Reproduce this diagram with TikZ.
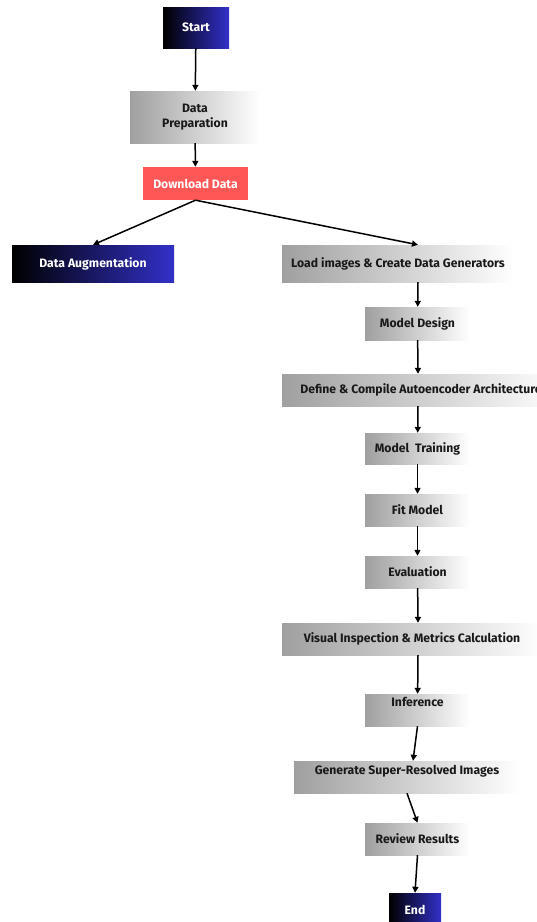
\documentclass[tikz,border=0pt]{standalone}
\usepackage{fontspec}
\setmainfont{Fira Sans}
\usetikzlibrary{arrows.meta}
\definecolor{navy}{RGB}{50,48,200}
\definecolor{salmon}{RGB}{255,86,86}
\definecolor{ink}{RGB}{25,25,25}

\begin{document}
\begin{tikzpicture}[x=1pt, y=-1pt,
 font=\bfseries\fontsize{12.2}{15}\selectfont,
 box/.style={inner sep=0pt, align=center},
 darkbox/.style={box, left color=black, right color=navy, text=white},
 greybox/.style={box, left color=gray!75, right color=white, text=ink},
 redbox/.style={box, fill=salmon, text=white},
 flow/.style={line width=1.5pt, -{Triangle[length=6pt, width=6pt]}}]
 \useasboundingbox (0,0) rectangle (537,922);
 \node[darkbox, minimum width=66pt, minimum height=41pt] (start) at (196,27.5) {Start};
 \node[greybox, minimum width=130pt, minimum height=52pt] (prep) at (195,117) {Data\\Preparation};
 \node[redbox, minimum width=105pt, minimum height=33pt] (dl) at (195.5,183.5) {Download Data};
 \node[darkbox, minimum width=162pt, minimum height=37pt] (aug) at (93,263.5) {Data Augmentation};
 \node[greybox, minimum width=232pt, minimum height=37pt] (load) at (398,263.5) {Load images \& Create Data Generators};
 \node[greybox, minimum width=105pt, minimum height=33pt] (design) at (417.5,323.5) {Model Design};
 \node[greybox, minimum width=278pt, minimum height=32pt] (define) at (421,390) {Define \& Compile Autoencoder Architecture};
 \node[greybox, minimum width=105pt, minimum height=31pt] (train) at (417.5,448.5) {Model\ \ Training};
 \node[greybox, minimum width=105pt, minimum height=32pt] (fit) at (417.5,510) {Fit Model};
 \node[greybox, minimum width=105pt, minimum height=32pt] (eval) at (417.5,572) {Evaluation};
 \node[greybox, minimum width=260pt, minimum height=32pt] (visual) at (412,639) {Visual Inspection \& Metrics Calculation};
 % texte en haut de la boite
 \node[greybox, minimum width=105pt, text height=12pt, text depth=20pt] (infer) at (417.5,710) {Inference};
 \node[greybox, minimum width=226pt, text height=13pt, text depth=19pt] (gen) at (407,777) {Generate Super-Resolved Images};
 \node[greybox, minimum width=105pt, minimum height=32pt] (review) at (417.5,839) {Review Results};
 \node[darkbox, minimum width=52pt, minimum height=33pt] (end) at (415,909.5) {End};

 \draw[flow] (start) -- (prep);
 \draw[flow] (prep) -- (dl);
 \draw[flow] (dl.south) -- (aug.north);
 \draw[flow] (dl.south) -- ([xshift=20pt]load.north);
 \draw[flow] ([xshift=20pt]load.south) -- (design);
 \draw[flow] (design) -- ([xshift=-3pt]define.north);
 \draw[flow] ([xshift=-3pt]define.south) -- (train);
 \draw[flow] (train) -- (fit);
 \draw[flow] (fit) -- (eval);
 \draw[flow] (eval) -- ([xshift=6pt]visual.north);
 \draw[flow] ([xshift=6pt]visual.south) -- (infer);
 \draw[flow] (infer.south) -- ([xshift=6pt]gen.north);
 \draw[flow] (gen.south) -- (review.north);
 \draw[flow] (review.south) -- (end.north);
\end{tikzpicture}
\end{document}
